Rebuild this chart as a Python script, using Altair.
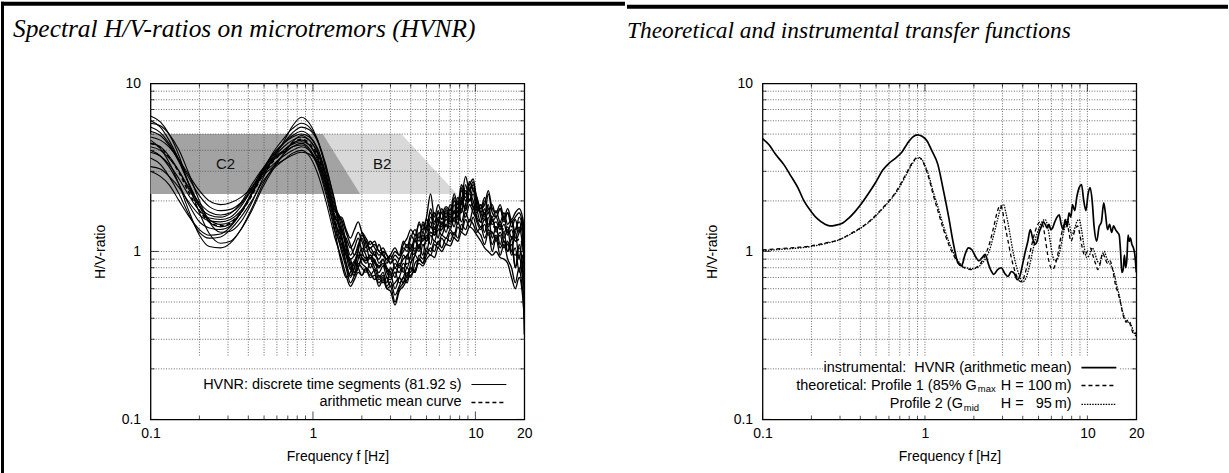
import altair as alt
import pandas as pd

# ---------------- left panel data (HVNR time segments) ----------------
F_LOW = [0.1, 0.115, 0.13, 0.15, 0.17, 0.2, 0.23, 0.27, 0.31, 0.36, 0.42, 0.49,
         0.57, 0.66, 0.75, 0.85, 0.95, 1.07, 1.2, 1.35]
F_HIGH = [1.5, 1.6, 1.7, 1.8, 1.9, 2.0, 2.12, 2.25, 2.4, 2.55, 2.7, 2.85, 3.0, 3.2,
          3.4, 3.6, 3.8, 4.0, 4.25, 4.5, 4.75, 5.0, 5.3, 5.6, 5.9, 6.2, 6.6, 7.0,
          7.4, 7.8, 8.2, 8.7, 9.2, 9.7, 10.2, 10.8, 11.4, 12.0, 12.7, 13.4, 14.2,
          15.0, 15.8, 16.7, 17.6, 18.6, 19.5, 20.0]

SEG_LOW = [
    [6.4, 5.9, 5.0, 3.7, 2.6, 1.7, 1.28, 1.12, 1.15, 1.35, 1.75, 2.4, 3.1, 3.8, 4.5, 4.9, 4.6, 3.9, 2.9, 1.8],
    [5.8, 5.6, 5.0, 4.0, 3.0, 2.0, 1.5, 1.3, 1.32, 1.5, 1.95, 2.7, 3.6, 4.5, 5.6, 6.3, 5.8, 4.6, 3.3, 2.0],
    [5.2, 4.9, 4.3, 3.4, 2.6, 1.9, 1.55, 1.45, 1.5, 1.7, 2.2, 3.0, 3.8, 4.4, 4.9, 5.2, 4.9, 4.1, 2.9, 1.7],
    [4.8, 4.6, 4.2, 3.5, 2.9, 2.3, 2.0, 1.9, 1.95, 2.1, 2.4, 2.9, 3.3, 3.7, 4.0, 4.2, 4.0, 3.4, 2.5, 1.6],
    [4.4, 4.2, 3.7, 3.0, 2.4, 1.85, 1.65, 1.6, 1.68, 1.95, 2.5, 3.1, 3.6, 4.0, 4.4, 4.6, 4.3, 3.5, 2.5, 1.5],
    [4.0, 3.7, 3.2, 2.5, 1.95, 1.5, 1.38, 1.35, 1.42, 1.7, 2.25, 3.0, 3.7, 4.4, 5.1, 5.5, 5.3, 4.5, 3.2, 2.1],
    [3.6, 3.3, 2.8, 2.2, 1.7, 1.3, 1.2, 1.22, 1.35, 1.6, 2.0, 2.6, 3.1, 3.5, 3.85, 4.0, 3.7, 2.9, 2.0, 1.25],
    [3.2, 3.1, 2.8, 2.4, 2.0, 1.65, 1.52, 1.5, 1.55, 1.75, 2.2, 2.9, 3.6, 4.2, 4.6, 4.8, 4.6, 3.8, 2.7, 1.6],
    [5.5, 5.1, 4.4, 3.5, 2.8, 2.15, 1.85, 1.75, 1.78, 1.95, 2.3, 2.8, 3.2, 3.5, 3.75, 3.9, 3.8, 3.3, 2.4, 1.5],
    [4.6, 4.1, 3.4, 2.5, 1.8, 1.25, 1.07, 1.05, 1.12, 1.35, 1.8, 2.5, 3.2, 3.8, 4.2, 4.4, 4.1, 3.3, 2.3, 1.4],
    [3.9, 3.7, 3.3, 2.7, 2.2, 1.75, 1.58, 1.55, 1.6, 1.85, 2.35, 3.1, 3.8, 4.4, 4.8, 5.0, 4.8, 4.0, 2.8, 1.75],
    [6.0, 5.5, 4.6, 3.5, 2.6, 1.85, 1.5, 1.4, 1.45, 1.7, 2.2, 2.9, 3.5, 3.9, 4.2, 4.3, 4.0, 3.2, 2.2, 1.35],
    [3.0, 2.8, 2.5, 2.0, 1.65, 1.35, 1.25, 1.27, 1.4, 1.7, 2.2, 3.0, 3.9, 4.7, 5.4, 5.8, 5.5, 4.6, 3.1, 1.9],
    [4.2, 4.0, 3.6, 3.0, 2.45, 1.95, 1.72, 1.65, 1.7, 1.9, 2.4, 3.0, 3.5, 4.0, 4.35, 4.5, 4.3, 3.6, 2.6, 1.6],
]
SEG_HIGH = [
    [1.5, 1.15, 0.95, 1.05, 1.2, 1.0, 0.9, 0.95, 0.85, 0.8, 0.9, 0.75, 0.7, 0.85, 0.8, 0.95, 0.9, 1.1, 1.0, 1.3,
     1.15, 1.4, 1.7, 1.35, 1.6, 1.45, 1.7, 1.5, 1.9, 1.6, 2.1, 1.8, 2.2, 2.0, 1.7, 1.9, 1.6, 1.9, 1.5, 1.6,
     1.4, 1.6, 1.3, 1.5, 1.2, 1.4, 1.1, 0.9],
    [1.4, 1.1, 0.85, 0.75, 0.9, 1.05, 0.95, 0.8, 0.9, 0.7, 0.75, 0.65, 0.8, 0.7, 0.85, 0.75, 0.95, 0.85, 1.2, 1.05,
     1.3, 1.2, 1.5, 1.25, 1.45, 1.7, 1.4, 1.8, 1.5, 2.0, 1.7, 2.5, 2.0, 2.4, 1.8, 1.5, 1.8, 1.4, 1.6, 1.3,
     1.5, 1.2, 1.35, 1.0, 1.3, 0.9, 1.2, 0.7],
    [1.2, 0.85, 0.7, 0.8, 1.0, 1.25, 1.1, 0.9, 1.0, 0.85, 0.9, 0.8, 0.75, 0.6, 0.7, 0.8, 0.7, 0.85, 0.95, 1.1,
     0.95, 1.25, 1.1, 1.4, 1.2, 1.5, 1.3, 1.6, 1.4, 1.75, 1.5, 1.9, 2.4, 1.8, 2.0, 1.6, 1.3, 1.6, 1.2, 1.4,
     1.1, 1.3, 1.0, 1.2, 0.8, 1.1, 0.75, 0.32],
    [1.1, 0.95, 0.9, 0.75, 0.8, 0.95, 1.15, 1.0, 0.95, 1.1, 0.95, 0.9, 0.95, 0.8, 0.9, 1.0, 1.1, 1.0, 1.25, 1.15,
     1.45, 1.3, 1.6, 1.45, 1.75, 1.55, 1.8, 1.65, 2.0, 1.8, 2.3, 2.1, 2.6, 2.3, 2.1, 1.8, 2.1, 1.7, 1.9, 1.6,
     1.8, 1.5, 1.7, 1.4, 1.55, 1.3, 1.6, 1.2],
    [1.0, 0.8, 0.65, 0.72, 0.85, 0.8, 0.75, 0.85, 0.75, 0.65, 0.7, 0.6, 0.62, 0.5, 0.6, 0.65, 0.75, 0.7, 0.85, 0.9,
     0.85, 1.0, 0.95, 1.1, 1.05, 1.2, 1.1, 1.3, 1.2, 1.4, 1.3, 1.55, 1.4, 1.6, 1.35, 1.25, 1.1, 1.3, 1.0, 1.2,
     0.95, 1.1, 0.9, 0.8, 0.65, 0.8, 0.6, 0.55],
    [1.3, 1.2, 1.05, 1.15, 1.3, 1.15, 1.0, 1.05, 0.95, 0.9, 1.0, 0.95, 0.85, 0.95, 0.9, 1.05, 1.0, 1.2, 1.35, 1.2,
     1.5, 1.35, 1.8, 1.5, 1.7, 1.55, 1.75, 1.6, 2.1, 1.7, 2.4, 2.0, 2.3, 2.6, 1.9, 1.7, 2.0, 1.8, 1.6, 1.75,
     1.5, 1.7, 1.45, 1.55, 1.3, 1.6, 1.4, 1.0],
    [0.9, 0.72, 0.62, 0.68, 0.75, 0.72, 0.78, 0.7, 0.72, 0.62, 0.68, 0.6, 0.58, 0.48, 0.58, 0.62, 0.68, 0.72, 0.78, 0.85,
     0.82, 0.9, 0.95, 0.92, 1.05, 1.0, 1.1, 1.08, 1.2, 1.15, 1.3, 1.25, 1.4, 1.35, 1.25, 1.15, 1.05, 1.0, 0.95, 1.0,
     0.92, 0.9, 0.85, 0.7, 0.6, 0.7, 0.55, 0.4],
    [1.35, 1.05, 0.8, 0.72, 0.8, 0.9, 0.85, 0.92, 0.8, 0.75, 0.82, 0.7, 0.68, 0.75, 0.65, 0.7, 0.8, 0.75, 0.95, 0.88,
     1.1, 1.0, 1.25, 1.15, 1.35, 1.25, 1.45, 1.35, 1.6, 1.45, 1.8, 1.6, 1.9, 1.7, 1.55, 1.4, 1.55, 1.35, 1.3, 1.2,
     1.3, 1.15, 1.1, 1.0, 0.95, 1.05, 0.85, 0.65],
    [1.2, 1.0, 0.9, 0.95, 1.05, 1.3, 1.2, 1.1, 1.15, 1.0, 1.05, 0.95, 0.9, 1.0, 0.95, 1.1, 1.2, 1.35, 1.25, 1.45,
     1.35, 1.55, 1.4, 1.7, 1.5, 1.8, 1.6, 1.9, 1.7, 2.1, 1.9, 2.3, 2.0, 2.2, 1.75, 1.9, 1.65, 2.2, 1.7, 1.6,
     1.8, 1.55, 1.7, 1.5, 1.6, 1.7, 1.45, 1.1],
    [0.85, 0.7, 0.75, 0.88, 0.8, 0.72, 0.8, 0.75, 0.68, 0.72, 0.65, 0.7, 0.62, 0.65, 0.7, 0.65, 0.72, 0.8, 0.75, 0.9,
     0.85, 0.95, 1.05, 1.0, 1.15, 1.05, 1.2, 1.15, 1.3, 1.2, 1.45, 1.35, 1.55, 1.45, 1.3, 1.4, 1.2, 1.35, 1.1, 1.25,
     1.05, 1.15, 1.0, 1.1, 0.8, 0.95, 0.7, 0.6],
    [1.55, 1.3, 1.1, 0.95, 1.1, 1.2, 1.05, 1.15, 1.05, 0.95, 1.0, 0.85, 0.95, 1.05, 0.95, 1.15, 1.05, 1.25, 1.15, 1.5,
     1.3, 1.6, 2.2, 1.6, 1.9, 1.7, 1.85, 1.75, 2.2, 1.9, 2.5, 2.2, 2.5, 2.7, 2.0, 1.8, 1.9, 2.3, 1.8, 1.7,
     1.9, 1.6, 1.8, 1.55, 1.7, 1.8, 1.6, 1.25],
    [1.05, 0.85, 0.72, 0.8, 0.95, 0.85, 0.8, 0.72, 0.78, 0.68, 0.72, 0.62, 0.66, 0.55, 0.62, 0.7, 0.65, 0.8, 0.75, 0.95,
     0.9, 1.05, 1.0, 1.15, 1.1, 1.25, 1.2, 1.35, 1.25, 1.5, 1.35, 1.7, 1.5, 1.8, 1.5, 1.35, 1.45, 1.25, 1.3, 1.15,
     1.25, 1.05, 1.15, 0.95, 1.05, 0.75, 0.95, 0.8],
    [1.25, 0.95, 0.78, 0.85, 1.0, 0.92, 0.88, 0.95, 0.88, 0.8, 0.85, 0.78, 0.72, 0.8, 0.75, 0.85, 0.8, 0.95, 1.05, 1.0,
     1.2, 1.15, 1.3, 1.25, 1.45, 1.35, 1.55, 1.45, 1.7, 1.55, 1.95, 2.8, 2.3, 2.5, 2.1, 1.7, 1.55, 1.7, 1.45, 1.5,
     1.35, 1.45, 1.25, 1.35, 1.15, 1.3, 1.5, 1.2],
    [1.6, 1.35, 1.2, 1.35, 1.5, 1.3, 1.15, 1.05, 1.1, 1.0, 0.95, 0.9, 0.85, 0.9, 0.82, 0.9, 0.95, 1.05, 1.15, 1.05,
     1.25, 1.15, 1.4, 1.3, 1.55, 1.4, 1.6, 1.5, 1.75, 1.6, 2.0, 1.75, 2.05, 1.85, 1.6, 1.5, 1.7, 1.45, 1.55, 1.35,
     1.45, 1.3, 1.4, 1.2, 1.35, 1.5, 1.25, 1.0],
]
MEAN_LOW = [4.4, 4.15, 3.65, 2.95, 2.3, 1.75, 1.5, 1.42, 1.48, 1.7, 2.15, 2.85, 3.45, 3.95, 4.4, 4.65, 4.4, 3.7, 2.6, 1.6]
MEAN_HIGH = [1.15, 0.95, 0.85, 0.88, 0.95, 0.95, 0.92, 0.88, 0.87, 0.82, 0.83, 0.77, 0.76, 0.75, 0.76, 0.82, 0.85, 0.93,
             0.98, 1.05, 1.08, 1.15, 1.3, 1.25, 1.37, 1.33, 1.45, 1.4, 1.6, 1.5, 1.78, 1.8, 1.85, 1.92, 1.6, 1.5,
             1.55, 1.55, 1.4, 1.4, 1.38, 1.35, 1.3, 1.22, 1.15, 1.18, 1.1, 0.85]

# shaded site-class zones
C2_F = [0.1, 1.15, 1.95]
C2_TOP = [5.0, 5.0, 2.2]
B2_F = [0.5, 3.5, 7.7]
B2_TOP = [5.0, 5.0, 2.2]
ZONE_BOTTOM = 2.2
ZONE_LABELS = ["C2", "B2"]
ZONE_LABEL_F = [0.29, 2.67]
ZONE_LABEL_V = [3.3, 3.3]

# ---------------- right panel data ----------------
F_INS = [0.1, 0.11, 0.12, 0.135, 0.15, 0.165, 0.18, 0.2, 0.22, 0.24,
         0.26, 0.28, 0.31, 0.34, 0.37, 0.41, 0.45, 0.5, 0.55, 0.6,
         0.66, 0.72, 0.78, 0.84, 0.9, 0.96, 1.03, 1.1, 1.2, 1.3,
         1.4, 1.5, 1.6, 1.68, 1.76, 1.85, 1.95, 2.05, 2.15, 2.25,
         2.35, 2.45, 2.55, 2.65, 2.8, 2.95, 3.1, 3.25, 3.4, 3.55,
         3.7, 3.85, 4.0, 4.15, 4.3, 4.45, 4.6, 4.75, 4.9, 5.05,
         5.2, 5.35, 5.5, 5.65, 5.8, 5.95, 6.1, 6.3, 6.5, 6.7,
         6.9, 7.1, 7.3, 7.5, 7.7, 7.9, 8.1, 8.35, 8.6, 8.9,
         9.2, 9.5, 9.8, 10.1, 10.4, 10.7, 11.0, 11.4, 11.8, 12.2,
         12.6, 12.9, 13.3, 13.7, 14.1, 14.5, 14.9, 15.3, 15.7, 16.0,
         16.3, 16.6, 16.9, 17.2, 17.5, 17.8, 18.1, 18.4, 18.8, 19.2,
         19.6, 20.0]
V_INS = [4.7, 4.3, 3.8, 3.3, 2.8, 2.4, 2.0, 1.72, 1.55, 1.46,
         1.42, 1.43, 1.47, 1.58, 1.72, 1.95, 2.22, 2.6, 3.05, 3.35,
         3.6, 3.9, 4.4, 4.8, 4.95, 4.85, 4.55, 4.0, 3.3, 2.3,
         1.6, 1.1, 0.85, 0.82, 0.95, 1.05, 1.02, 0.93, 0.88, 0.92,
         0.96, 0.85, 0.77, 0.73, 0.78, 0.8, 0.74, 0.71, 0.76, 0.74,
         0.68, 0.72, 0.85, 1.0, 1.15, 1.35, 1.2, 1.1, 1.15, 1.3,
         1.4, 1.5, 1.45, 1.38, 1.45, 1.35, 1.38, 1.5, 1.6, 1.65,
         1.45, 1.35, 1.55, 1.4, 1.7, 1.6, 1.9, 1.75, 2.1, 2.4,
         2.5, 2.0, 1.75, 2.2, 2.4, 2.0, 1.4, 1.15, 1.4, 1.5,
         1.95, 1.7, 1.35, 1.45, 1.3, 1.42, 1.35, 1.3, 1.25, 1.0,
         0.75, 0.78, 0.95, 0.8, 0.9, 1.25, 1.15, 1.2, 1.1, 1.05,
         0.95, 0.75]

F_P1 = [0.1, 0.13, 0.17, 0.2, 0.25, 0.3, 0.35, 0.4, 0.45, 0.5,
        0.55, 0.6, 0.66, 0.72, 0.78, 0.84, 0.9, 0.95, 1.0, 1.06,
        1.12, 1.2, 1.3, 1.4, 1.5, 1.6, 1.7, 1.8, 1.9, 2.0,
        2.1, 2.2, 2.35, 2.5, 2.65, 2.8, 2.9, 3.0, 3.1, 3.25,
        3.4, 3.6, 3.8, 3.95, 4.1, 4.3, 4.5, 4.7, 4.9, 5.1,
        5.3, 5.5, 5.7, 5.9, 6.1, 6.3, 6.6, 6.9, 7.2, 7.45,
        7.7, 7.9, 8.1, 8.4, 8.7, 9.0, 9.3, 9.6, 10.0, 10.4,
        10.8, 11.2, 11.6, 12.0, 12.4, 12.8, 13.3, 13.8, 14.3, 14.8,
        15.3, 15.8, 16.3, 16.8, 17.3, 17.8, 18.3, 18.8, 19.3, 20.0]
V_P1 = [1.02, 1.04, 1.06, 1.08, 1.13, 1.18, 1.28, 1.38, 1.5, 1.65,
        1.82, 2.0, 2.25, 2.6, 3.0, 3.4, 3.65, 3.55, 3.2, 2.7,
        2.2, 1.75, 1.35, 1.1, 0.95, 0.86, 0.81, 0.79, 0.78, 0.79,
        0.81, 0.85, 0.95, 1.12, 1.4, 1.75, 1.88, 1.75, 1.45, 1.15,
        0.92, 0.75, 0.67, 0.66, 0.72, 0.86, 1.05, 1.25, 1.42, 1.5,
        1.45, 1.2, 0.95, 0.82, 0.78, 0.82, 0.98, 1.25, 1.45, 1.5,
        1.3, 1.15, 1.2, 1.35, 1.42, 1.25, 1.05, 0.95, 1.0, 1.05,
        0.95, 0.85, 0.78, 0.85, 0.98, 0.92, 0.85, 0.88, 0.78, 0.65,
        0.58, 0.52, 0.45, 0.4, 0.38, 0.39, 0.37, 0.34, 0.32, 0.33]

F_P2 = [0.1, 0.13, 0.17, 0.2, 0.25, 0.3, 0.35, 0.4, 0.45, 0.5,
        0.55, 0.6, 0.66, 0.72, 0.78, 0.84, 0.9, 0.95, 1.0, 1.06,
        1.12, 1.2, 1.3, 1.4, 1.5, 1.6, 1.7, 1.8, 1.9, 2.0,
        2.1, 2.2, 2.35, 2.5, 2.65, 2.8, 2.95, 3.05, 3.15, 3.3,
        3.45, 3.65, 3.85, 4.0, 4.2, 4.4, 4.6, 4.8, 5.0, 5.25,
        5.5, 5.7, 5.9, 6.1, 6.3, 6.6, 6.9, 7.2, 7.5, 7.8,
        8.0, 8.3, 8.6, 8.9, 9.2, 9.5, 9.9, 10.3, 10.7, 11.1,
        11.5, 11.9, 12.3, 12.7, 13.2, 13.7, 14.2, 14.7, 15.2, 15.7,
        16.2, 16.7, 17.2, 17.7, 18.2, 18.7, 19.3, 20.0]
V_P2 = [1.01, 1.03, 1.05, 1.07, 1.12, 1.18, 1.27, 1.37, 1.49, 1.63,
        1.8, 1.98, 2.22, 2.55, 2.95, 3.35, 3.6, 3.55, 3.25, 2.8,
        2.3, 1.85, 1.42, 1.15, 0.98, 0.88, 0.82, 0.8, 0.79, 0.79,
        0.8, 0.83, 0.9, 1.02, 1.25, 1.55, 1.85, 1.9, 1.7, 1.35,
        1.05, 0.82, 0.7, 0.66, 0.7, 0.82, 1.0, 1.2, 1.35, 1.5,
        1.55, 1.4, 1.15, 0.95, 0.88, 0.92, 1.1, 1.35, 1.55, 1.4,
        1.25, 1.35, 1.5, 1.55, 1.35, 1.1, 0.92, 0.95, 1.05, 0.98,
        0.88, 0.85, 0.95, 1.0, 0.9, 0.85, 0.8, 0.72, 0.62, 0.55,
        0.47, 0.42, 0.39, 0.38, 0.38, 0.36, 0.33, 0.31]

# ticks / grid
X_LABELS = [0.1, 1, 10, 20]
Y_LABELS = [0.1, 1, 10]
X_MAJOR = [0.1, 1, 10]
X_MINOR = [0.2, 0.3, 0.4, 0.5, 0.6, 0.7, 0.8, 0.9, 2, 3, 4, 5, 6, 7, 8, 9]
Y_MAJOR = [0.1, 1, 10]
Y_MINOR = [0.2, 0.3, 0.4, 0.5, 0.6, 0.7, 0.8, 0.9, 2, 3, 4, 5, 6, 7, 8, 9]
GRID_X = [0.2, 0.3, 0.4, 0.5, 0.6, 0.7, 0.8, 0.9, 1, 2, 3, 4, 5, 6, 7, 8, 9, 10]
GRID_Y = [0.2, 0.3, 0.4, 0.5, 0.6, 0.7, 0.8, 0.9, 1, 2, 3, 4, 5, 6, 7, 8, 9]
GRID_V_FROM = 0.24

for lo, hi in zip(SEG_LOW, SEG_HIGH):
    assert len(lo) == len(F_LOW) and len(hi) == len(F_HIGH)
assert len(F_INS) == len(V_INS) and len(F_P1) == len(V_P1) and len(F_P2) == len(V_P2)

# ---------------- chart ----------------
W, H = 375, 337
SANS = "Liberation Sans"
SERIF = "Liberation Serif"
LEG = 14.5
XS = alt.Scale(type="log", domain=[0.1, 20], nice=False)
YS = alt.Scale(type="log", domain=[0.1, 10], nice=False)

X_AXIS = alt.Axis(values=X_LABELS, format="~g", grid=False, ticks=False, domain=False,
                  labelFont=SANS, labelFontSize=14, labelColor="black", labelPadding=7,
                  labelFlush=False, labelOverlap=False,
                  title="Frequency f [Hz]", titleFont=SANS, titleFontSize=14,
                  titleFontWeight="normal", titleColor="black", titlePadding=9)
Y_AXIS = alt.Axis(values=Y_LABELS, format="~g", grid=False, ticks=False, domain=False,
                  labelFont=SANS, labelFontSize=14, labelColor="black", labelPadding=10,
                  labelFlush=False, labelOverlap=False,
                  title="H/V-ratio", titleFont=SANS, titleFontSize=14,
                  titleFontWeight="normal", titleColor="black", titlePadding=14)


def xq(field):
    return alt.X(f"{field}:Q", scale=XS, axis=X_AXIS)


def yq(field):
    return alt.Y(f"{field}:Q", scale=YS, axis=Y_AXIS)


def frame_layers():
    layers = []
    gx = pd.DataFrame({"f": GRID_X, "y0": GRID_V_FROM, "y1": 10})
    gy = pd.DataFrame({"v": GRID_Y, "x0": 0.1, "x1": 20})
    layers.append(alt.Chart(gx).mark_rule(color="#5a5a5a", strokeWidth=0.9, strokeDash=[1, 1.6])
                  .encode(x=xq("f"), y=yq("y0"), y2="y1:Q"))
    layers.append(alt.Chart(gy).mark_rule(color="#5a5a5a", strokeWidth=0.9, strokeDash=[1, 1.6])
                  .encode(y=yq("v"), x=xq("x0"), x2="x1:Q"))
    for vals, size in ((X_MAJOR, 8), (X_MINOR, 4)):
        d = pd.DataFrame({"f": vals})
        for ypos in (size / 2, H - size / 2):
            layers.append(alt.Chart(d).mark_tick(orient="vertical", size=size, thickness=1, color="black")
                          .encode(x=xq("f"), y=alt.value(ypos)))
    for vals, size in ((Y_MAJOR, 8), (Y_MINOR, 4)):
        d = pd.DataFrame({"v": vals})
        for xpos in (size / 2, W - size / 2):
            layers.append(alt.Chart(d).mark_tick(orient="horizontal", size=size, thickness=1, color="black")
                          .encode(y=yq("v"), x=alt.value(xpos)))
    return layers


def text(txt, x, y, align="right", size=LEG, font=SANS, style="normal", baseline="middle"):
    return alt.Chart(pd.DataFrame({"d": [0]})).mark_text(
        text=txt, align=align, baseline=baseline, font=font, fontSize=size,
        fontStyle=style, color="black").encode(x=alt.value(x), y=alt.value(y))


def sample(x1, x2, y, dash=None, width=1.0):
    kw = {"color": "black", "strokeWidth": width}
    if dash:
        kw["strokeDash"] = dash
    return alt.Chart(pd.DataFrame({"d": [0]})).mark_rule(**kw).encode(
        x=alt.value(x1), x2=alt.value(x2), y=alt.value(y))


def box(x1, x2, y1, y2, color="black"):
    # filled rectangle without stroke so that its bounds are exact
    return alt.Chart(pd.DataFrame({"d": [0]})).mark_rect(color=color, strokeWidth=0).encode(
        x=alt.value(x1), x2=alt.value(x2), y=alt.value(y1), y2=alt.value(y2))


# ---- left panel ----
rows = []
for i, (lo, hi) in enumerate(zip(SEG_LOW, SEG_HIGH)):
    for f, v in zip(F_LOW + F_HIGH, lo + hi):
        rows.append({"seg": i, "f": f, "v": v})
seg_df = pd.DataFrame(rows)
mean_df = pd.DataFrame({"f": F_LOW + F_HIGH, "v": MEAN_LOW + MEAN_HIGH})

b2 = pd.DataFrame({"f": B2_F, "top": B2_TOP, "bot": ZONE_BOTTOM})
c2 = pd.DataFrame({"f": C2_F, "top": C2_TOP, "bot": ZONE_BOTTOM})
zl = pd.DataFrame({"f": ZONE_LABEL_F, "v": ZONE_LABEL_V, "t": ZONE_LABELS})

split = F_LOW[-1]
left_layers = [
    alt.Chart(b2).mark_area(color="#d9d9d9", opacity=1).encode(x=xq("f"), y=yq("top"), y2="bot:Q"),
    alt.Chart(c2).mark_area(color="#a3a3a3", opacity=1).encode(x=xq("f"), y=yq("top"), y2="bot:Q"),
] + frame_layers() + [
    alt.Chart(zl).mark_text(font=SANS, fontSize=15, color="#111").encode(x=xq("f"), y=yq("v"), text="t:N"),
    alt.Chart(seg_df).transform_filter(alt.datum.f <= split)
    .mark_line(color="black", strokeWidth=1.1, interpolate="monotone").encode(
        x=xq("f"), y=yq("v"), detail="seg:N"),
    alt.Chart(seg_df).transform_filter(alt.datum.f >= split)
    .mark_line(color="black", strokeWidth=1.35, interpolate="monotone").encode(
        x=xq("f"), y=yq("v"), detail="seg:N"),
    alt.Chart(mean_df).mark_line(color="black", strokeWidth=1.6, strokeDash=[4, 3], interpolate="monotone")
    .encode(x=xq("f"), y=yq("v")),
    text("HVNR: discrete time segments (81.92 s)", 312, 302),
    text("arithmetic mean curve", 312, 320),
    sample(322, 357, 302, width=1.0),
    sample(322, 357, 320, dash=[4, 3], width=1.6),
    text("Spectral H/V-ratios on microtremors (HVNR)", -138, -47, align="left", size=25.5,
         font=SERIF, style="italic", baseline="alphabetic"),
    box(-150, 476, -82, -78),
    box(-150, -147, -82, 391),
]
left = alt.layer(*left_layers).properties(width=W, height=H)

# ---- right panel ----
ins_df = pd.DataFrame({"f": F_INS, "v": V_INS})
p1_df = pd.DataFrame({"f": F_P1, "v": V_P1})
p2_df = pd.DataFrame({"f": F_P2, "v": V_P2})

right_layers = frame_layers() + [
    box(61, 358, 277, 333, color="white"),
    alt.Chart(p2_df).mark_line(color="black", strokeWidth=1.3, strokeDash=[1.5, 1.2], interpolate="monotone")
    .encode(x=xq("f"), y=yq("v")),
    alt.Chart(p1_df).mark_line(color="black", strokeWidth=1.3, strokeDash=[4, 3], interpolate="monotone")
    .encode(x=xq("f"), y=yq("v")),
    alt.Chart(ins_df).mark_line(color="black", strokeWidth=1.7, interpolate="monotone").encode(
        x=xq("f"), y=yq("v")),
    text("instrumental:\u00a0 HVNR (arithmetic mean)", 310, 285),
    text("theoretical: Profile 1 (85% G", 215, 303),
    text("max", 216, 307, align="left", size=9.5),
    text("H = 100\u2009m)", 310, 303),
    text("Profile 2 (G", 201, 322),
    text("mid", 202, 326, align="left", size=9.5),
    text("H = \u200795\u2009m)", 310, 322),
    sample(320, 355, 285, width=1.7),
    sample(320, 355, 303, dash=[4, 3], width=1.3),
    sample(320, 355, 322, dash=[1.5, 1.2], width=1.3),
    text("Theoretical and instrumental transfer functions", -136, -46, align="left", size=23.5,
         font=SERIF, style="italic", baseline="alphabetic"),
    box(-136, 467, -79, -75),
]
right = alt.layer(*right_layers).properties(width=W, height=H)

chart = alt.hconcat(left, right, spacing=0).properties(
    padding={"left": 0, "top": 0, "right": 0, "bottom": 0}, background="white"
).configure_view(stroke="black", strokeWidth=1.3)

chart.save("out.html", embed_options={"renderer": "svg", "actions": False})
